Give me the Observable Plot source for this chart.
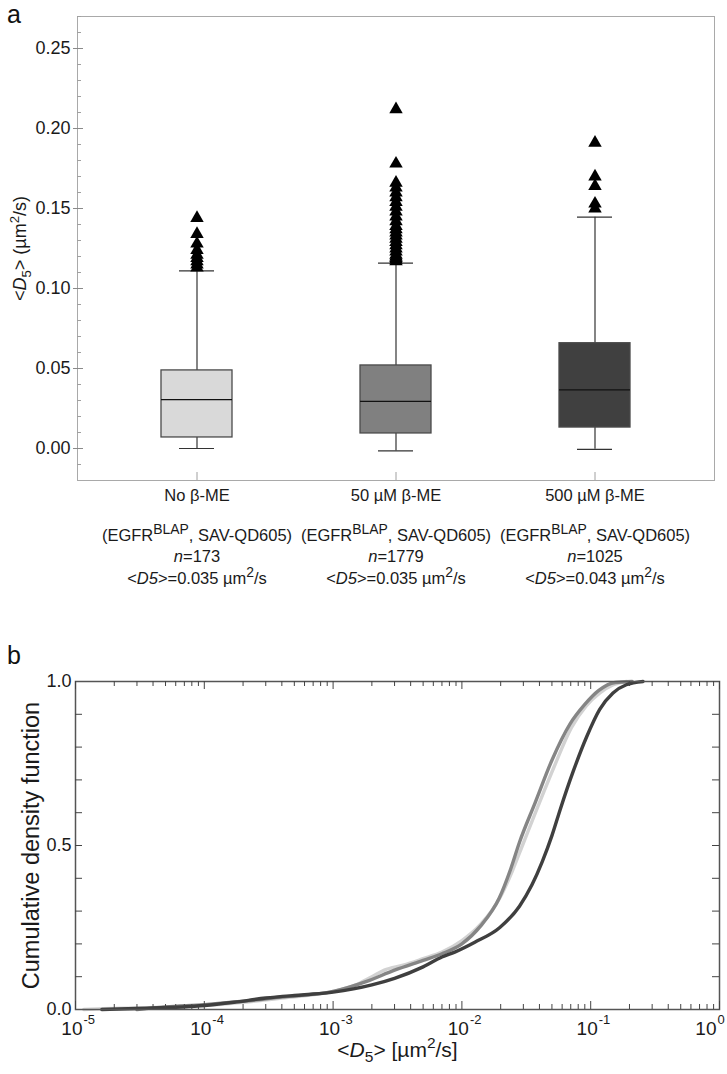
<!DOCTYPE html>
<html><head><meta charset="utf-8">
<script src="https://cdn.jsdelivr.net/npm/d3@7"></script>
<script src="https://cdn.jsdelivr.net/npm/@observablehq/plot@0.6"></script>
<style>
body{margin:0;background:#fff;font-family:"Liberation Sans",Arial,sans-serif;}
#wrap{position:relative;width:727px;height:1074px;overflow:hidden;background:#fff;}
.panel{position:absolute;left:0;}
.letter{position:absolute;left:7px;font-size:25px;line-height:normal;color:#111;}
</style></head><body><div id="wrap"></div>
<script>
// ---------- data: panel a (box plots) ----------
const categories = ["No β-ME", "50 µM β-ME", "500 µM β-ME"];
const nCounts = [173, 1779, 1025];
const meanD5 = ["0.035", "0.035", "0.043"];
const whiskerLow = [0.0, -0.0015, -0.0005];
const quartile1 = [0.0069, 0.0094, 0.0131];
const medians = [0.0306, 0.0294, 0.0367];
const quartile3 = [0.0488, 0.0519, 0.0658];
const whiskerHigh = [0.111, 0.1158, 0.1446];
const outliersNoBME = [0.144, 0.134, 0.128, 0.124, 0.121, 0.119, 0.117, 0.115, 0.113];
const outliers50uM = [0.212, 0.178, 0.166, 0.163, 0.160, 0.157, 0.154, 0.151, 0.148, 0.145, 0.142, 0.139, 0.137, 0.135, 0.133, 0.131, 0.129, 0.127, 0.125, 0.123, 0.121, 0.120, 0.119, 0.118, 0.117];
const outliers500uM = [0.191, 0.170, 0.164, 0.153, 0.150];
const boxYTicks = [0, 0.05, 0.10, 0.15, 0.20, 0.25];

// ---------- data: panel b (CDF) ----------
const cdfXNoBME = [1.16e-5, 1.5e-5, 3e-5, 1e-4, 2e-4, 4e-4, 1e-3, 1.5e-3, 2e-3, 2.5e-3, 3.5e-3, 5e-3, 7e-3, 0.01, 0.014, 0.0197, 0.0245, 0.0295, 0.039, 0.052, 0.071, 0.092, 0.118, 0.15, 0.19];
const cdfYNoBME = [0, 0.002, 0.005, 0.012, 0.022, 0.035, 0.055, 0.075, 0.10, 0.12, 0.135, 0.155, 0.175, 0.21, 0.26, 0.34, 0.42, 0.50, 0.62, 0.74, 0.86, 0.925, 0.965, 0.99, 1.0];
const cdfX50uM = [3e-5, 5e-5, 1e-4, 2e-4, 4e-4, 1e-3, 1.8e-3, 3e-3, 5e-3, 7e-3, 0.01, 0.014, 0.0195, 0.024, 0.028, 0.037, 0.05, 0.069, 0.09, 0.115, 0.155, 0.21];
const cdfY50uM = [0, 0.008, 0.015, 0.025, 0.038, 0.055, 0.085, 0.12, 0.15, 0.17, 0.20, 0.255, 0.34, 0.43, 0.51, 0.63, 0.76, 0.87, 0.93, 0.972, 0.997, 1.0];
const cdfX500uM = [1.6e-5, 3e-5, 1e-4, 1.7e-4, 3e-4, 6e-4, 1e-3, 2e-3, 3e-3, 5e-3, 7e-3, 0.0088, 0.0126, 0.0197, 0.028, 0.035, 0.042, 0.050, 0.058, 0.073, 0.0927, 0.1175, 0.149, 0.189, 0.255];
const cdfY500uM = [0, 0.003, 0.012, 0.022, 0.035, 0.045, 0.053, 0.075, 0.095, 0.13, 0.16, 0.175, 0.205, 0.25, 0.315, 0.38, 0.45, 0.53, 0.61, 0.725, 0.83, 0.915, 0.965, 0.99, 1.0];
const cdfYTicks = [0, 0.5, 1.0];
const cdfXExponents = [-5, -4, -3, -2, -1, 0];

// ---------- styles ----------
const boxFills = ["#d9d9d9", "#808080", "#404040"];
const cdfStrokes = ["#d2d2d2", "#858585", "#3f3f3f"];
const FONT = "Liberation Sans, Arial, Helvetica, sans-serif";
const W = 727;

// ---------- helpers ----------
const NS = "http://www.w3.org/2000/svg";
function setRich(textEl, parts, base, supScale = 0.74) {
  textEl.textContent = "";
  let shift = 0;
  for (const p of parts) {
    const ts = document.createElementNS(NS, "tspan");
    ts.textContent = p.t;
    const target = p.sup ? -base * 0.42 : p.sub ? base * 0.28 : 0;
    if (target !== shift) { ts.setAttribute("dy", target - shift); shift = target; }
    if (p.sup || p.sub) ts.setAttribute("font-size", (base * supScale).toFixed(1));
    if (p.i) ts.setAttribute("font-style", "italic");
    textEl.appendChild(ts);
  }
}
function richByText(svg, str, parts, base, supScale) {
  svg.querySelectorAll("text").forEach(t => { if (t.textContent === str) setRich(t, parts, base, supScale); });
}

const wrap = document.getElementById("wrap");

// ---------- panel a ----------
const stats = categories.map((c, i) => ({cat: c, lo: whiskerLow[i], q1: quartile1[i], med: medians[i], q3: quartile3[i], hi: whiskerHigh[i]}));
const outlierRows = [
  ...outliersNoBME.map(v => ({cat: categories[0], v})),
  ...outliers50uM.map(v => ({cat: categories[1], v})),
  ...outliers500uM.map(v => ({cat: categories[2], v}))
];
const minorY = d3.range(-1, 28).map(k => k / 100).filter(v => Math.round(v * 100) % 5 !== 0);

const m1 = {top: 16, right: 13, bottom: 120, left: 77};
const H1 = 600;
const fw1 = W - m1.left - m1.right;
const fh1 = H1 - m1.top - m1.bottom;
const LF = 16.5;

const p1 = Plot.plot({
  width: W, height: H1,
  marginTop: m1.top, marginRight: m1.right, marginBottom: m1.bottom, marginLeft: m1.left,
  style: {fontFamily: FONT, fontSize: "18px", color: "#1a1a1a", background: "transparent", overflow: "visible"},
  x: {type: "band", domain: categories, paddingInner: 0.643, paddingOuter: 0.4215, axis: null},
  y: {domain: [-0.02, 0.27], axis: null},
  color: {domain: categories, range: boxFills},
  marks: [
    Plot.frame({stroke: "#a9a9a9"}),
    Plot.axisY(boxYTicks, {tickFormat: d3.format(".2f"), tickSize: 4, tickPadding: 3, stroke: "#8a8a8a", fontSize: 18, label: null}),
    Plot.tickY(boxYTicks, {y: d => d, insetRight: fw1 - 6, stroke: "#8a8a8a"}),
    Plot.tickY(minorY, {y: d => d, insetRight: fw1 - 4, stroke: "#a0a0a0"}),
    Plot.ruleX(categories, {x: d => d, insetTop: fh1 - 8, stroke: "#a0a0a0"}),
    Plot.ruleX(stats, {x: "cat", y1: "lo", y2: "q1", stroke: "#333", strokeWidth: 1.2}),
    Plot.ruleX(stats, {x: "cat", y1: "q3", y2: "hi", stroke: "#333", strokeWidth: 1.2}),
    Plot.tickY(stats, {x: "cat", y: "lo", insetLeft: 18, insetRight: 18, stroke: "#333", strokeWidth: 1.2}),
    Plot.tickY(stats, {x: "cat", y: "hi", insetLeft: 18, insetRight: 18, stroke: "#333", strokeWidth: 1.2}),
    Plot.barY(stats, {x: "cat", y1: "q1", y2: "q3", fill: "cat", stroke: "#4a4a4a", strokeWidth: 1.3}),
    Plot.tickY(stats, {x: "cat", y: "med", stroke: "#111", strokeWidth: 1.2}),
    Plot.dot(outlierRows, {x: "cat", y: "v", symbol: "triangle", r: 5, fill: "#000", stroke: null}),
    Plot.text(categories, {x: d => d, frameAnchor: "bottom", dy: 20, text: d => d, fontSize: LF}),
    Plot.text(categories, {x: d => d, frameAnchor: "bottom", dy: 60, text: () => "(EGFRBLAP, SAV-QD605)", fontSize: LF}),
    Plot.text(categories, {x: d => d, frameAnchor: "bottom", dy: 81, text: (d, i) => "n=" + nCounts[i], fontSize: LF}),
    Plot.text(categories, {x: d => d, frameAnchor: "bottom", dy: 103, text: (d, i) => "<D5>=" + meanD5[i] + " µm2/s", fontSize: LF}),
    Plot.text(["<D5> (µm2/s)"], {frameAnchor: "left", dx: -57, rotate: -90, textAnchor: "middle", text: d => d, fontSize: 18})
  ]
});
p1.classList.add("panel");
p1.style.top = "0px";
wrap.appendChild(p1);
richByText(p1, "(EGFRBLAP, SAV-QD605)", [{t: "(EGFR"}, {t: "BLAP", sup: true}, {t: ", SAV-QD605)"}], LF, 0.84);
nCounts.forEach(n => richByText(p1, "n=" + n, [{t: "n", i: true}, {t: "=" + n}], LF));
meanD5.forEach(m => richByText(p1, "<D5>=" + m + " µm2/s", [{t: "<"}, {t: "D5", i: true}, {t: ">=" + m + " µm"}, {t: "2", sup: true}, {t: "/s"}], LF, 0.84));
richByText(p1, "<D5> (µm2/s)", [{t: "<"}, {t: "D", i: true}, {t: "5", sub: true}, {t: "> (µm"}, {t: "2", sup: true}, {t: "/s)"}], 18);

// ---------- panel b ----------
const cdfRows = [
  ...cdfXNoBME.map((x, i) => ({cat: categories[0], x, y: cdfYNoBME[i]})),
  ...cdfX50uM.map((x, i) => ({cat: categories[1], x, y: cdfY50uM[i]})),
  ...cdfX500uM.map((x, i) => ({cat: categories[2], x, y: cdfY500uM[i]}))
];
const majorX = cdfXExponents.map(e => 10 ** e);
const minorX = cdfXExponents.slice(0, -1).flatMap(e => d3.range(2, 10).map(k => k * 10 ** e));
const innerY = d3.range(1, 10).map(k => k / 10);

const m2 = {top: 41, right: 8, bottom: 65, left: 75};
const H2 = 434;
const fw2 = W - m2.left - m2.right;
const fh2 = H2 - m2.top - m2.bottom;
const tickStroke = "#444";
const lastExp = cdfXExponents[cdfXExponents.length - 1];

const p2 = Plot.plot({
  width: W, height: H2,
  marginTop: m2.top, marginRight: m2.right, marginBottom: m2.bottom, marginLeft: m2.left,
  style: {fontFamily: FONT, fontSize: "18px", color: "#1a1a1a", background: "transparent", overflow: "visible"},
  x: {type: "log", domain: [1e-5, 1], axis: null},
  y: {domain: [0, 1], axis: null},
  color: {domain: categories, range: cdfStrokes},
  marks: [
    Plot.line(cdfRows, {x: "x", y: "y", z: "cat", stroke: "cat", strokeWidth: 3.4, strokeLinejoin: "round", curve: "monotone-x"}),
    Plot.frame({stroke: "#555", strokeWidth: 1.5}),
    Plot.tickY(innerY, {y: d => d, insetRight: fw2 - 7, stroke: tickStroke}),
    Plot.tickY(innerY, {y: d => d, insetLeft: fw2 - 7, stroke: tickStroke}),
    Plot.tickX(majorX, {x: d => d, insetTop: fh2 - 8, stroke: tickStroke}),
    Plot.tickX(minorX, {x: d => d, insetTop: fh2 - 5, stroke: tickStroke}),
    Plot.tickX(majorX, {x: d => d, insetBottom: fh2 - 8, stroke: tickStroke}),
    Plot.tickX(minorX, {x: d => d, insetBottom: fh2 - 5, stroke: tickStroke}),
    Plot.axisY(cdfYTicks, {tickFormat: d3.format(".1f"), tickSize: 0, tickPadding: 4, fontSize: 18, label: null}),
    Plot.text(cdfXExponents.filter(e => e !== lastExp), {x: d => 10 ** d, frameAnchor: "bottom", text: () => "10", textAnchor: "end", dx: 7, dy: 25, fontSize: 19}),
    Plot.text(cdfXExponents.filter(e => e !== lastExp), {x: d => 10 ** d, frameAnchor: "bottom", text: d => String(d), textAnchor: "start", dx: 8, dy: 14, fontSize: 13}),
    Plot.text([lastExp], {x: d => 10 ** d, frameAnchor: "bottom", text: () => "10", textAnchor: "end", dx: -3, dy: 25, fontSize: 19}),
    Plot.text([lastExp], {x: d => 10 ** d, frameAnchor: "bottom", text: d => String(d), textAnchor: "start", dx: -2, dy: 14, fontSize: 13}),
    Plot.text(["Cumulative density function"], {frameAnchor: "left", dx: -44, rotate: -90, textAnchor: "middle", text: d => d, fontSize: 23.5}),
    Plot.text(["<D5> [µm2/s]"], {frameAnchor: "bottom", dy: 47, text: d => d, fontSize: 21})
  ]
});
p2.classList.add("panel");
p2.style.top = "640px";
wrap.appendChild(p2);
richByText(p2, "<D5> [µm2/s]", [{t: "<"}, {t: "D", i: true}, {t: "5", sub: true}, {t: "> [µm"}, {t: "2", sup: true}, {t: "/s]"}], 21);

// panel letters
for (const [txt, top] of [["a", 0], ["b", 641]]) {
  const d = document.createElement("div");
  d.className = "letter";
  d.style.top = top + "px";
  d.textContent = txt;
  wrap.appendChild(d);
}
</script>
</body></html>
